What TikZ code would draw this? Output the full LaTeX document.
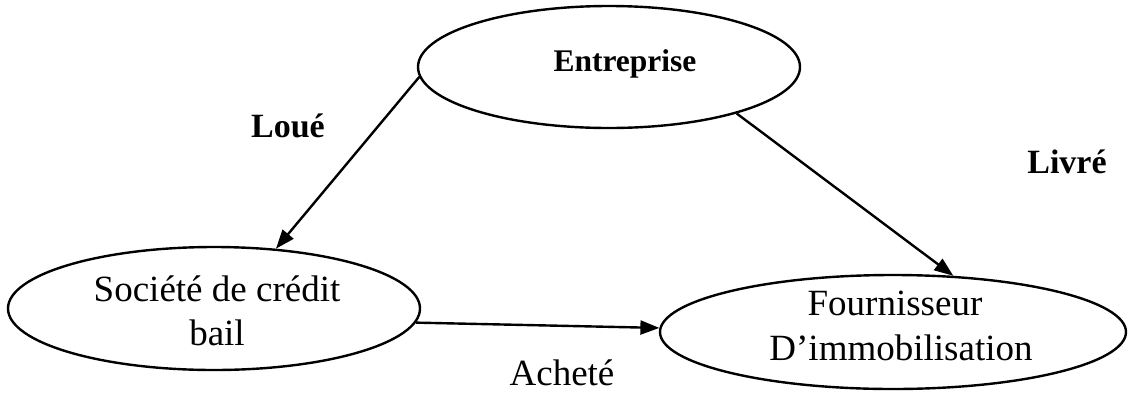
\documentclass[tikz,border=0pt]{standalone}
\usepackage{fontspec}
\setmainfont{Liberation Serif}
\usetikzlibrary{arrows.meta,shapes.geometric}
\begin{document}
\begin{tikzpicture}[x=1pt,y=-1pt,
  oval/.style={draw, ellipse, line width=2.4pt, inner sep=0pt},
  txt/.style={font=\fontsize{37}{44}\selectfont, inner sep=0pt, anchor=base},
  boldtxt/.style={font=\fontsize{34}{40}\selectfont\bfseries, inner sep=0pt, anchor=base},
  flow/.style={line width=2.4pt, -{Triangle[length=19pt,width=14pt]}}]
\useasboundingbox (0,0) rectangle (1145,397);

% ellipses
\node[oval, minimum width=382pt, minimum height=122pt] (ent) at (609,67) {};
\node[oval, minimum width=412pt, minimum height=123pt] (scb) at (214,308.5) {};
\node[oval, minimum width=466pt, minimum height=114pt] (four) at (893,332) {};

% texts inside ellipses
\node[font=\fontsize{31.5}{38}\selectfont\bfseries, inner sep=0pt, anchor=base] (entt) at (625,71) {Entreprise};
\node[txt] (scb1) at (217,301) {Société de crédit};
\node[txt] (scb2) at (217,345) {bail};
\node[txt] (four1) at (895,315) {Fournisseur};
\node[txt] (four2) at (901,360) {D’immobilisation};

% connector labels
\node[boldtxt] (loue) at (288,137) {Loué};
\node[boldtxt] (livre) at (1067,173) {Livré};
\node[txt] (achete) at (562,385) {Acheté};

% connectors
\draw[flow] (ent.183.35) -- (scb.44.3);
\draw[flow] (ent.340) -- (four.43);
\draw[flow] (scb.356.5) -- (four.179.3);
\end{tikzpicture}
\end{document}
